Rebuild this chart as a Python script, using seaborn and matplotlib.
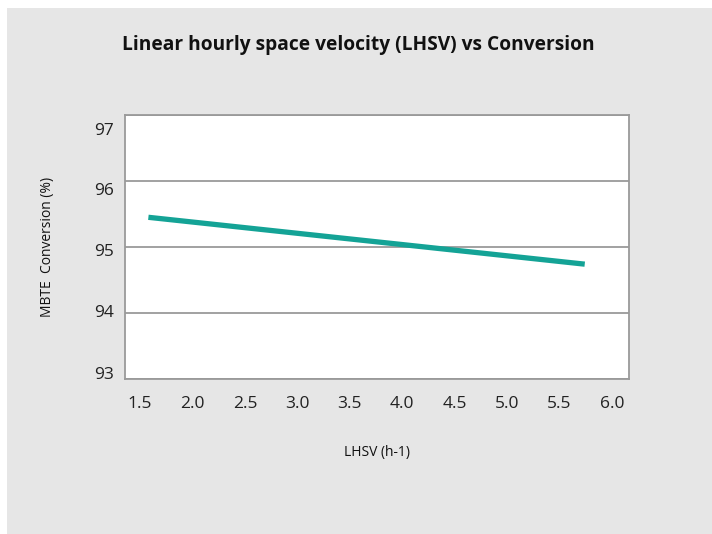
import matplotlib
matplotlib.use("Agg")
import matplotlib.pyplot as plt
import matplotlib.transforms as mtransforms
import seaborn as sns
import pandas as pd
from matplotlib.patches import Rectangle

# Data
lhsv = [1.58, 5.74]
conversion = [95.45, 94.74]
x_ticks = [1.5, 2.0, 2.5, 3.0, 3.5, 4.0, 4.5, 5.0, 5.5, 6.0]
x_tick_labels = ["1.5", "2.0", "2.5", "3.0", "3.5", "4.0", "4.5", "5.0", "5.5", "6.0"]
y_ticks = [93, 94, 95, 96, 97]
y_tick_labels = ["93", "94", "95", "96", "97"]

title = "Linear hourly space velocity (LHSV) vs Conversion"
xlabel = "LHSV (h-1)"
ylabel = "MBTE  Conversion (%)"

sns.set_theme(style="white")
plt.rcParams["font.family"] = ["Open Sans", "DejaVu Sans"]

df = pd.DataFrame({"LHSV": lhsv, "Conversion": conversion})

fig = plt.figure(figsize=(7.12, 5.34), dpi=100)
fig.patch.set_facecolor("white")
fig.patches.append(Rectangle((7 / 712, 0), 1 - 7 / 712, 1 - 8 / 534,
                             transform=fig.transFigure, facecolor="#e6e6e6",
                             edgecolor="none", zorder=-10))

ax = fig.add_axes([125 / 712, 1 - 379 / 534, (629 - 125) / 712, (379 - 115) / 534])
ax.set_facecolor("white")

sns.lineplot(data=df, x="LHSV", y="Conversion", ax=ax, color="#14a396",
             linewidth=3.8, solid_capstyle="butt")

ax.set_xlim(1.357, 6.162)
ax.set_ylim(93, 97)
ax.set_xticks(x_ticks)
ax.set_xticklabels(x_tick_labels)
ax.set_yticks(y_ticks)
ax.set_yticklabels(y_tick_labels)
ax.tick_params(axis="both", length=0, labelsize=12.5, colors="#222222")
ax.tick_params(axis="x", pad=12)
ax.tick_params(axis="y", pad=8)

# the reference's y labels sit slightly compressed relative to the gridlines
label_shift_px = [-6, -2, 3, 8, 14]
for lbl, dy in zip(ax.get_yticklabels(), label_shift_px):
    lbl.set_transform(lbl.get_transform() +
                      mtransforms.ScaledTranslation(0, -dy / 100, fig.dpi_scale_trans))

ax.yaxis.grid(True, color="#9a9a9a", linewidth=1.3)
ax.xaxis.grid(False)
for s in ax.spines.values():
    s.set_visible(True)
    s.set_color("#9a9a9a")
    s.set_linewidth(1.3)
ax.set_axisbelow(True)

ax.set_xlabel(xlabel, fontsize=10, color="#111111", labelpad=24)
ax.set_ylabel(ylabel, fontsize=10, color="#111111", labelpad=28)

fig.text(358 / 712, 1 - 45 / 534, title, ha="center", va="center",
         fontsize=13.8, fontweight="bold", color="#111111")

fig.savefig("out.png", dpi=100)
